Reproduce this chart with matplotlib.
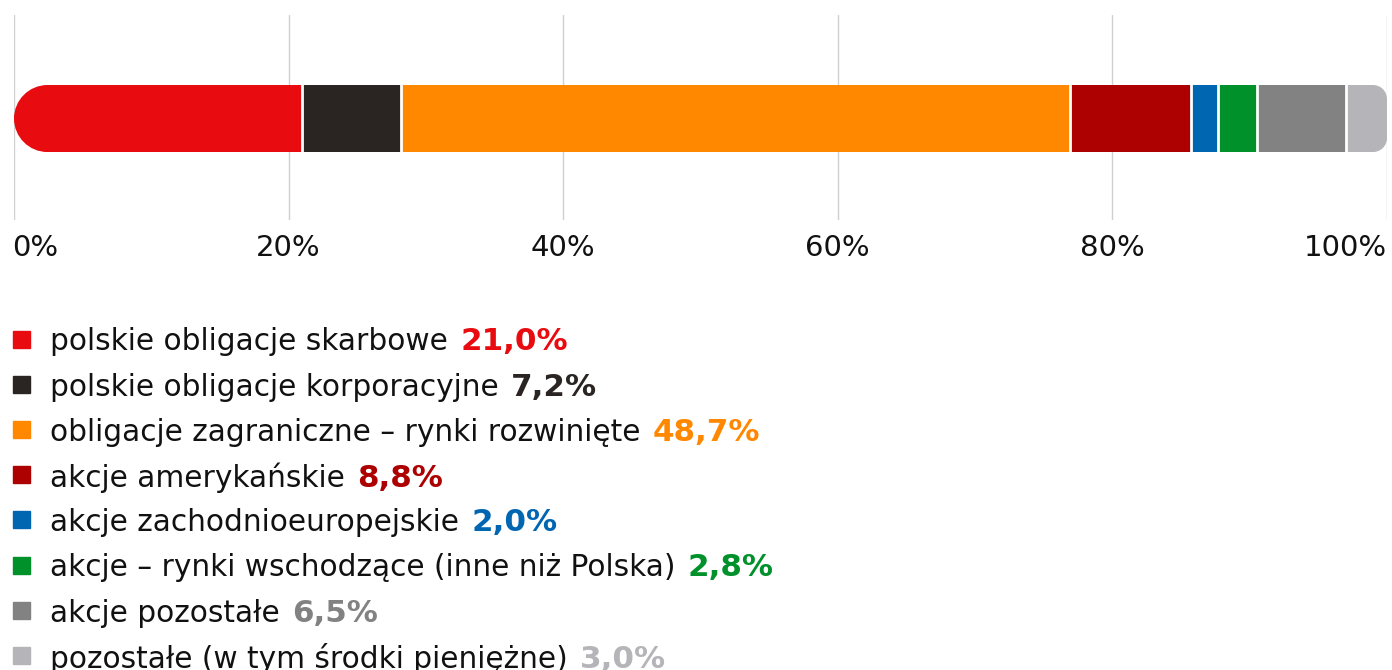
import matplotlib
matplotlib.use("Agg")
import matplotlib.pyplot as plt
from matplotlib.path import Path
from matplotlib.transforms import IdentityTransform
import numpy as np

plt.rcParams['font.family'] = ['DejaVu Sans']

categories = [
    "polskie obligacje skarbowe",
    "polskie obligacje korporacyjne",
    "obligacje zagraniczne – rynki rozwinięte",
    "akcje amerykańskie",
    "akcje zachodnioeuropejskie",
    "akcje – rynki wschodzące (inne niż Polska)",
    "akcje pozostałe",
    "pozostałe (w tym środki pieniężne)",
]
values = [21.0, 7.2, 48.7, 8.8, 2.0, 2.8, 6.5, 3.0]
pct_labels = ["21,0%", "7,2%", "48,7%", "8,8%", "2,0%", "2,8%", "6,5%", "3,0%"]
colors = ["#E80C10", "#2A2523", "#FF8800", "#AD0000", "#0066B2", "#00912A", "#828282", "#B5B5B9"]
label_colors = ["#E80C10", "#2A2523", "#FF8800", "#AD0000", "#0066B2", "#00912A", "#828282", "#B5B5B9"]
tick_values = [0, 20, 40, 60, 80, 100]
tick_labels = ["0%", "20%", "40%", "60%", "80%", "100%"]

W, H = 1392, 670
fig = plt.figure(figsize=(W / 100, H / 100), dpi=100)
ax = fig.add_axes([14 / W, 1 - 220 / H, (1387 - 14) / W, 205 / H])
ax.set_xlim(0, 100)
ax.set_ylim(0, 1)
for s in ax.spines.values():
    s.set_visible(False)
ax.set_yticks([])
ax.set_xticks(tick_values)
ax.set_xticklabels([])
ax.tick_params(axis='x', length=0)
for v in tick_values:
    ax.axvline(v, color="#D0D0D0", lw=1.0, zorder=0)

bar_y = 0.495
bar_h = 0.327
lefts = np.concatenate([[0], np.cumsum(values)[:-1]])
bars = ax.barh([bar_y], values, left=lefts, height=bar_h, color=colors, zorder=2, linewidth=0)

# white separators
bounds = np.cumsum(values)[:-1]
seps = ax.vlines(bounds, bar_y - bar_h / 2 - 0.01, bar_y + bar_h / 2 + 0.01, colors="white", lw=2.0, zorder=3)

# rounded clip (display coords)
fig.canvas.draw()
x0, y0 = ax.transData.transform((0, bar_y - bar_h / 2))
x1, y1 = ax.transData.transform((100, bar_y + bar_h / 2))
rl = (y1 - y0) / 2
rr = 14.0
k = 0.5523
verts = [
    (x0 + rl, y0),
    (x1 - rr, y0),
    (x1 - rr + k * rr, y0), (x1, y0 + rr - k * rr), (x1, y0 + rr),
    (x1, y1 - rr),
    (x1, y1 - rr + k * rr), (x1 - rr + k * rr, y1), (x1 - rr, y1),
    (x0 + rl, y1),
    (x0 + rl - k * rl, y1), (x0, y1 - rl + k * rl), (x0, y1 - rl),
    (x0, y0 + rl - k * rl), (x0 + rl - k * rl, y0), (x0 + rl, y0),
    (x0 + rl, y0),
]
codes = [Path.MOVETO, Path.LINETO,
         Path.CURVE4, Path.CURVE4, Path.CURVE4,
         Path.LINETO,
         Path.CURVE4, Path.CURVE4, Path.CURVE4,
         Path.LINETO,
         Path.CURVE4, Path.CURVE4, Path.CURVE4,
         Path.CURVE4, Path.CURVE4, Path.CURVE4,
         Path.CLOSEPOLY]
clip = Path(verts, codes)
for b in bars:
    b.set_clip_path(clip, IdentityTransform())
seps.set_clip_path(clip, IdentityTransform())

# tick labels
fs_tick = 21
for i, (v, lab) in enumerate(zip(tick_values, tick_labels)):
    ha = 'left' if i == 0 else ('right' if i == len(tick_values) - 1 else 'center')
    xoff = -2 if i == 0 else 0
    ax.annotate(lab, xy=(v, 0), xycoords=('data', 'axes fraction'),
                xytext=(xoff * 0.72, -10), textcoords='offset points',
                ha=ha, va='top', fontsize=fs_tick, color="#111111")

# legend
fs = 21.3
fs_b = 22.3
row0 = 339
step = 45.2
for i, (cat, pct, c, lc) in enumerate(zip(categories, pct_labels, colors, label_colors)):
    yc = row0 + i * step
    fig.patches.append(plt.Rectangle((13 / W, 1 - (yc + 8.5) / H), 17 / W, 17 / H,
                                     transform=fig.transFigure, color=c, figure=fig))
    t = fig.text(50 / W, 1 - yc / H, cat + " ", fontsize=fs, color="#111111", va='center_baseline')
    ax.annotate(pct, xy=(1, 0), xycoords=t, xytext=(2, 0), textcoords='offset points',
                ha='left', va='bottom', fontsize=fs_b, color=lc, fontweight='bold',
                annotation_clip=False)

fig.savefig("out.png", dpi=100)
